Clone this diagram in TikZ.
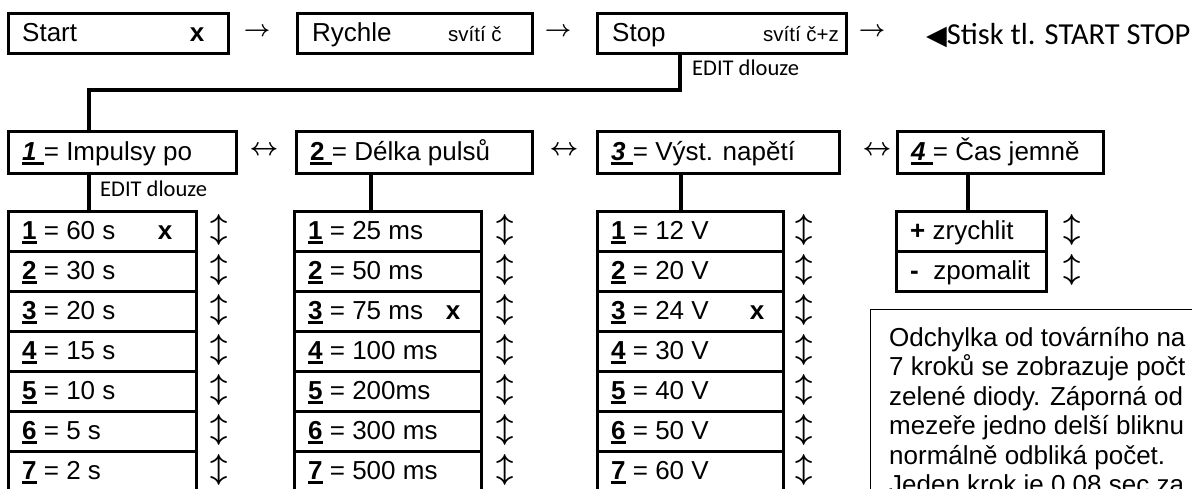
\documentclass[tikz,border=0pt]{standalone}
\usepackage{fontspec}
\usepackage{graphicx}
\setmainfont{Liberation Sans}
\newfontfamily\carlito{Carlito}
\newfontfamily\dejavu{DejaVu Sans}
\newcommand\myul[1]{\setbox0\hbox{#1}\rlap{\rule[-5pt]{\wd0}{2.6pt}}\box0\relax}
\newcommand\rar{\scalebox{2.3}{\boldmath$\rightarrow$}}
\newcommand\lrar{\scalebox{2.5}{\boldmath$\leftrightarrow$}}
\newcommand\udar{\scalebox{3.0}{\boldmath$\updownarrow$}}
\tikzset{
  bx/.style={draw, line width=3.4pt, rectangle, anchor=north west, inner sep=0pt, minimum height=40pt},
  tx/.style={anchor=base west, inner sep=0pt, font=\fontsize{26}{30}\selectfont},
  sm/.style={anchor=base west, inner sep=0pt, font=\fontsize{20.5}{24}\selectfont},
  ed/.style={anchor=base west, inner sep=0pt, font=\carlito\fontsize{22.5}{26}\selectfont},
  ar/.style={inner sep=0pt},
  ln/.style={line width=3.4pt},
}
\begin{document}
\begin{tikzpicture}[x=1pt,y=-1pt]
\useasboundingbox (0,0) rectangle (1192,488);
\clip (0,0) rectangle (1192,488);
% top row
\node[bx, minimum width=220pt] (start) at (7,12) {};
\node[tx] (startT) at (22,41) {Start};
\node[tx, anchor=base] (startX) at (197,41) {\bfseries x};
\node[ar] (a1) at (257,32) {\rar};
\node[bx, minimum width=235pt] (rych) at (296,12) {};
\node[tx] (rychT) at (312,41) {Rychle};
\node[sm] (rychS) at (448,41) {svítí č};
\node[ar] (a2) at (558,32) {\rar};
\node[bx, minimum width=249pt] (stop) at (596,12) {};
\node[tx] (stopT) at (612,41) {Stop};
\node[sm] (stopS) at (763,41) {svítí č+z};
\node[ar] (a3) at (872,32) {\rar};
\node[anchor=base west, inner sep=0pt, font=\carlito\fontsize{30.5}{34}\selectfont] (press) at (926,44) {{\dejavu\fontsize{27}{27}\selectfont ◀}Stisk tl. START STOP};
% main connector
\coordinate (sj) at (680,52);
\coordinate (bend) at (89,90);
\node[ed] (edit1) at (692,75) {EDIT dlouze};
% level 2
\node[bx, minimum width=228pt, minimum height=42pt] (l2a) at (7,130) {};
\node[tx] (l2aT) at (22,160) {\myul{\bfseries\itshape 1\ }= Impulsy po};
\node[ar] (b1) at (264,151) {\lrar};
\node[bx, minimum width=236pt, minimum height=42pt] (l2b) at (295,130) {};
\node[tx] (l2bT) at (310,160) {\myul{\bfseries 2\ }= Délka pulsů};
\node[ar] (b2) at (564,151) {\lrar};
\node[bx, minimum width=242pt, minimum height=42pt] (l2c) at (596,130) {};
\node[tx] (l2cT) at (611,160) {\myul{\bfseries\itshape 3\ }= Výst. napětí};
\node[ar] (b3) at (877,151) {\lrar};
\node[bx, minimum width=206pt, minimum height=42pt] (l2d) at (896,130) {};
\node[tx] (l2dT) at (911,160) {\myul{\bfseries\itshape 4\ }= Čas jemně};
\draw[ln] (sj) |- (bend) -- (bend |- l2a.north);
\node[ed] (edit2) at (100,196) {EDIT dlouze};
% level 3
\foreach \v [count=\i] in {60 s,30 s,20 s,15 s,10 s,5 s,2 s} {
  \node[bx, minimum width=188pt] (c1r\i) at (7,{210+40*(\i-1)}) {};
  \node[tx] (c1t\i) at (22,{239+40*(\i-1)}) {\myul{\bfseries\i} = \v};
  \node[ar] (c1a\i) at (219,{230+40*(\i-1)}) {\udar};
}
\foreach \v [count=\i] in {25 ms,50 ms,75 ms,100 ms,200ms,300 ms,500 ms} {
  \node[bx, minimum width=187pt] (c2r\i) at (293,{210+40*(\i-1)}) {};
  \node[tx] (c2t\i) at (308,{239+40*(\i-1)}) {\myul{\bfseries\i} = \v};
  \node[ar] (c2a\i) at (505,{230+40*(\i-1)}) {\udar};
}
\foreach \v [count=\i] in {12 V,20 V,24 V,30 V,40 V,50 V,60 V} {
  \node[bx, minimum width=186pt] (c3r\i) at (596,{210+40*(\i-1)}) {};
  \node[tx] (c3t\i) at (611,{239+40*(\i-1)}) {\myul{\bfseries\i} = \v};
  \node[ar] (c3a\i) at (804,{230+40*(\i-1)}) {\udar};
}
\node[tx, anchor=base] (c1x) at (165,239) {\bfseries x};
\node[tx, anchor=base] (c2x) at (453,319) {\bfseries x};
\node[tx, anchor=base] (c3x) at (757,319) {\bfseries x};
\node[bx, minimum width=150pt] (c4r1) at (895,210) {};
\node[tx] (c4t1) at (910,239) {\textbf{+} zrychlit};
\node[ar] (c4a1) at (1072,230) {\udar};
\node[bx, minimum width=150pt] (c4r2) at (895,250) {};
\node[tx] (c4t2) at (910,279) {\textbf{-}\ \ zpomalit};
\node[ar] (c4a2) at (1072,270) {\udar};
% verticals
\coordinate (v1) at (89,172);
\coordinate (v2) at (371,172);
\coordinate (v3) at (681,172);
\coordinate (v4) at (968,172);
\draw[ln] (v1) -- (v1 |- c1r1.north);
\draw[ln] (v2) -- (v2 |- c2r1.north);
\draw[ln] (v3) -- (v3 |- c3r1.north);
\draw[ln] (v4) -- (v4 |- c4r1.north);
% note
\node[draw, line width=1.3pt, anchor=north west, minimum width=400pt, minimum height=250pt, inner sep=0pt] (note) at (870,309) {};
\node[tx] (n1) at (889,346) {Odchylka od továrního na};
\node[tx] (n2) at (889,375.5) {7 kroků se zobrazuje počt};
\node[tx] (n3) at (889,405) {zelené diody. Záporná od};
\node[tx] (n4) at (889,434.5) {mezeře jedno delší bliknu};
\node[tx] (n5) at (889,464) {normálně odbliká počet.};
\node[tx] (n6) at (889,493.5) {Jeden krok je 0,08 sec za};
\end{tikzpicture}
\end{document}
